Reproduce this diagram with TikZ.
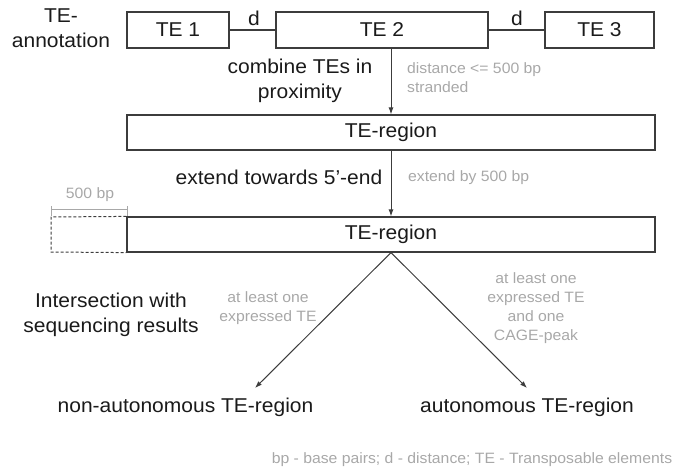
\documentclass[tikz,border=0pt]{standalone}
\usepackage{fontspec}
\setmainfont{Liberation Sans}[FakeStretch=1.05]
\usetikzlibrary{arrows.meta}
\definecolor{linec}{HTML}{3C3C3C}
\definecolor{txtc}{HTML}{1A1A1A}
\definecolor{greyc}{HTML}{A8A8A8}
\tikzset{
  tebox/.style={draw=linec, line width=1.2pt, rectangle, inner sep=0pt, minimum height=36pt,
    text=txtc, font=\fontsize{20}{25}\selectfont},
  main/.style={inner sep=0pt, text=txtc, align=center, font=\fontsize{20}{25}\selectfont},
  note/.style={inner sep=0pt, text=greyc, align=center, font=\fontsize{15}{19}\selectfont},
  conn/.style={draw=linec, line width=1.2pt},
  arr/.style={draw=linec, line width=1pt, -{Latex[length=7pt,width=5pt]}},
}
\begin{document}
\begin{tikzpicture}[x=1pt,y=-1pt]
\useasboundingbox (0,0) rectangle (674,472);
% top row
\node[main] (annot) at (61,28) {TE-\\annotation};
\node[tebox, minimum width=102pt] (te1) at (178,30) {TE 1};
\node[tebox, minimum width=212pt] (te2) at (382,30) {TE 2};
\node[tebox, minimum width=109pt] (te3) at (599.5,30) {TE 3};
\draw[conn] (te1.east) -- (te2.west);
\draw[conn] (te2.east) -- (te3.west);
\node[main] (d1) at (254,18) {d};
\node[main] (d2) at (517,18) {d};
% first region
\node[tebox, minimum width=528pt, minimum height=35pt] (reg1) at (391,132.5) {TE-region};
\draw[arr] (te2.south -| reg1.north) -- (reg1.north);
\node[main] (comb) at (300,80.5) {combine TEs in\\proximity};
\node[note, anchor=west, align=left] (dist) at (407,77.5) {distance <= 500 bp\\stranded};
% second region
\node[tebox, minimum width=528pt, minimum height=35pt] (reg2) at (391,234.5) {TE-region};
\draw[arr] (reg1.south) -- (reg2.north);
\node[main, anchor=east] (ext) at (382.5,177) {extend towards 5’-end};
\node[note, anchor=west] (extby) at (408,178) {extend by 500 bp};
% dashed extension
\coordinate (dnw) at (51,217);
\coordinate (dsw) at (51,252);
\draw[draw=linec, line width=1pt, dashed, dash pattern=on 3pt off 2pt] (reg2.north west) -- (dnw) -- (dsw) -- (reg2.south west);
% 500 bp bracket
\coordinate (bl) at (51,209);
\coordinate (br) at (127,209);
\draw[draw=greyc, line width=1pt] (bl) -- (br);
\draw[draw=greyc, line width=1pt] ([yshift=-7pt]bl) -- ([yshift=3pt]bl);
\draw[draw=greyc, line width=1pt] ([yshift=-7pt]br) -- ([yshift=3pt]br);
\node[note] (bp) at (90,195) {500 bp};
% split
\coordinate (tipL) at (255,388);
\coordinate (tipR) at (527,388);
\draw[arr] (reg2.south) -- (tipL);
\draw[arr] (reg2.south) -- (tipR);
\node[main] (inter) at (111,314.5) {Intersection with\\sequencing results};
\node[note] (condL) at (268,308.5) {at least one\\expressed TE};
\node[note] (condR) at (536,308.5) {at least one\\expressed TE\\and one\\CAGE-peak};
\node[main] (nonauto) at (185.5,407) {non-autonomous TE-region};
\node[main] (auto) at (527,407) {autonomous TE-region};
\node[note] (foot) at (472,460) {bp - base pairs; d - distance; TE - Transposable elements};
\end{tikzpicture}
\end{document}
